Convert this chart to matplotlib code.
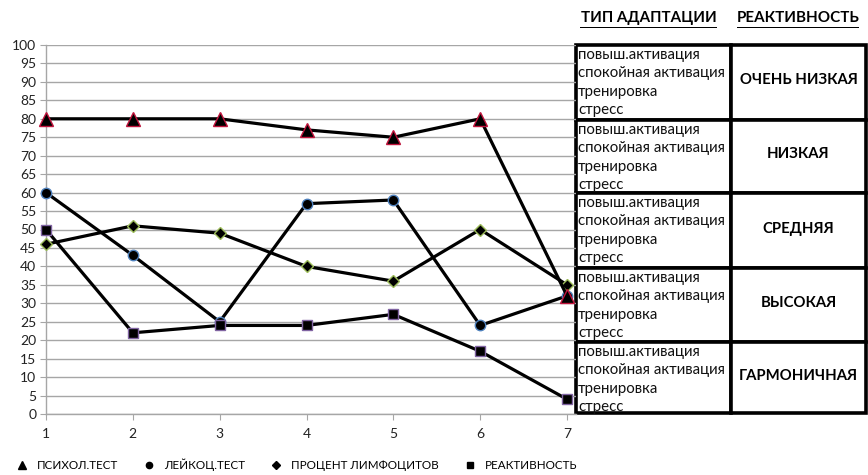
import matplotlib
matplotlib.use("Agg")
import matplotlib.pyplot as plt
from matplotlib.lines import Line2D
from matplotlib.patches import Rectangle

plt.rcParams['font.family'] = ['Lato', 'DejaVu Sans']

# Observations 1..7
points = [1, 2, 3, 4, 5, 6, 7]
psych_test = [80, 80, 80, 77, 75, 80, 32]
leuko_test = [60, 43, 25, 57, 58, 24, 32]
lympho_pct = [46, 51, 49, 40, 36, 50, 35]
reactivity = [50, 22, 24, 24, 27, 17, 4]

series_names = ["ПСИХОЛ.ТЕСТ", "ЛЕЙКОЦ.ТЕСТ", "ПРОЦЕНТ ЛИМФОЦИТОВ", "РЕАКТИВНОСТЬ"]
series_values = [psych_test, leuko_test, lympho_pct, reactivity]
series_markers = ["^", "o", "D", "s"]
marker_sizes = [9.5, 7.5, 6.5, 7.5]
marker_edges = ["#c0143c", "#4f81bd", "#9bbb59", "#8064a2"]
series_z = [5, 3, 4, 3]

y_ticks = list(range(0, 101, 5))

# Side table: adaptation types and reactivity levels
adaptation_types = ["повыш.активация", "спокойная активация", "тренировка", "стресс"]
reactivity_levels = ["ОЧЕНЬ НИЗКАЯ", "НИЗКАЯ", "СРЕДНЯЯ", "ВЫСОКАЯ", "ГАРМОНИЧНАЯ"]
header_left = "ТИП АДАПТАЦИИ"
header_right = "РЕАКТИВНОСТЬ"

W, H = 868, 475
fig = plt.figure(figsize=(W / 100, H / 100), dpi=100)

# Overlay in pixel coordinates for the side table (drawn beneath the chart)
ov = fig.add_axes([0, 0, 1, 1], zorder=1)
ov.set_xlim(0, W)
ov.set_ylim(H, 0)
ov.axis("off")

ax_l, ax_r, ax_b, ax_t = 46, 576, 414, 45
ax = fig.add_axes([ax_l / W, 1 - ax_b / H, (ax_r - ax_l) / W, (ax_b - ax_t) / H], zorder=2)
ax.patch.set_alpha(0)

handles = []
for vals, mk, ms, ec, z in zip(series_values, series_markers, marker_sizes, marker_edges, series_z):
    ax.plot(points, vals, color="black", lw=2.3, marker=mk, markersize=ms,
            markerfacecolor="black", markeredgecolor=ec, markeredgewidth=1.0,
            zorder=z, clip_on=False)
    handles.append(Line2D([], [], lw=0, marker=mk, markersize=ms * 0.6,
                          markerfacecolor="black", markeredgecolor="black"))

ax.set_xlim(1, 7 + 9 / 87)
ax.set_ylim(0, 100)
ax.set_xticks(points)
ax.set_yticks(y_ticks)
ax.grid(axis="y", color="#a6a6a6", lw=1.0)
ax.set_axisbelow(True)
for side in ("top", "right"):
    ax.spines[side].set_visible(False)
for side in ("left", "bottom"):
    ax.spines[side].set_color("#a6a6a6")
    ax.spines[side].set_linewidth(1.0)
ax.tick_params(axis="y", length=4, color="#a6a6a6", labelsize=10, pad=3, labelcolor="#222222")
ax.tick_params(axis="x", length=4, color="#a6a6a6", labelsize=10, pad=6, labelcolor="#222222")

fig.legend(handles, series_names, loc="center left", bbox_to_anchor=(16 / W, 1 - 465 / H),
           ncol=4, frameon=False, fontsize=8.4, handlelength=1.0, handletextpad=0.75,
           columnspacing=2.2, borderpad=0, borderaxespad=0)

row_edges = [45, 120, 193, 268, 342, 413]
col_edges = [576, 731, 866]

for i, level in enumerate(reactivity_levels):
    top, bot = row_edges[i], row_edges[i + 1]
    for c in range(2):
        ov.add_patch(Rectangle((col_edges[c], top), col_edges[c + 1] - col_edges[c], bot - top,
                               facecolor="white", edgecolor="black", lw=2.6))
    for k, t in enumerate(adaptation_types):
        ov.text(578, top + 10 + k * 18.3, t, fontsize=10.8, ha="left", va="center", color="#111111")
    ov.text((col_edges[1] + col_edges[2]) / 2, (top + bot) / 2 - 2, level, fontsize=10.7,
            fontweight="bold", ha="center", va="center")

# Column headers, underlined with thin filled bars
for (x0, x1), t in (((580, 717), header_left), ((737, 859), header_right)):
    ov.text((x0 + x1) / 2, 18, t, fontsize=10.9, fontweight="bold", ha="center", va="center")
    ov.add_patch(Rectangle((x0, 26.5), x1 - x0, 1.6, facecolor="black", edgecolor="none",
                           zorder=6))

fig.savefig("out.png", dpi=100)
